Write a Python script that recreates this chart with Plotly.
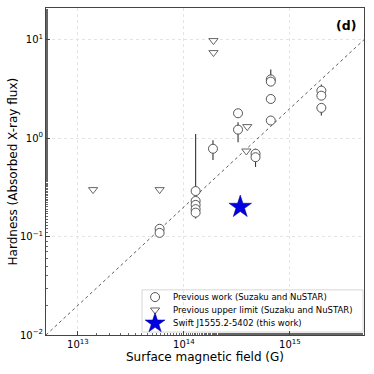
"""Hardness vs surface magnetic field, panel (d)."""

import numpy as np
import plotly.graph_objects as go

# previous work (circles): field, hardness, upper / lower error-bar ends
circle_b = [5.9e13, 5.9e13, 1.29e14, 1.29e14, 1.29e14, 1.29e14, 1.29e14,
            1.88e14, 3.24e14, 3.24e14, 4.74e14, 4.74e14,
            6.6e14, 6.6e14, 6.6e14, 6.6e14, 1.98e15, 1.98e15, 1.98e15]
circle_h = [0.12, 0.109, 0.29, 0.23, 0.21, 0.19, 0.175,
            0.78, 1.79, 1.22, 0.695, 0.64,
            3.95, 3.75, 2.5, 1.51, 3.04, 2.7, 2.03]
circle_hi = [0.12, 0.109, 1.1, 0.23, 0.21, 0.19, 0.175,
             0.95, 1.79, 1.45, 0.78, 0.64,
             4.97, 3.75, 2.5, 1.51, 3.5, 2.7, 2.03]
circle_lo = [0.12, 0.109, 0.29, 0.23, 0.21, 0.19, 0.153,
             0.60, 1.79, 0.91, 0.695, 0.51,
             3.95, 3.75, 2.5, 1.51, 3.04, 2.7, 1.7]

# previous upper limits (triangles)
limit_b = [1.39e13, 5.9e13, 1.9e14, 1.9e14, 3.96e14, 3.88e14]
limit_h = [0.30, 0.30, 9.8, 7.4, 1.31, 0.74]

# this work
star_b = [3.4e14]
star_h = [0.2]

# reference relation H = B / 5e14
line_b = [5e12, 5e15]
line_h = [b / 5e14 for b in line_b]

# tick labels
x_ticks = [1e13, 1e14, 1e15]
x_labels = ["10<sup>13</sup>", "10<sup>14</sup>", "10<sup>15</sup>"]
y_ticks = [1e-2, 1e-1, 1e0, 1e1]
y_labels = ["10<sup>\u22122</sup>", "10<sup>\u22121</sup>", "10<sup>0</sup>", "10<sup>1</sup>"]

legend_labels = [
    "Previous work (Suzaku and NuSTAR)",
    "Previous upper limit (Suzaku and NuSTAR)",
    "Swift J1555.2-5402 (this work)",
]

FONT = "DejaVu Sans"

circle_marker = dict(symbol="circle", size=9, color="white",
                     line=dict(color="#444444", width=0.9))
limit_marker = dict(symbol="triangle-down", size=8, color="white",
                    line=dict(color="#555555", width=0.9))
star_marker = dict(symbol="star", size=17, color="#0000e0",
                   line=dict(color="#00008b", width=0.5))

fig = go.Figure()

fig.add_trace(go.Scatter(
    x=line_b, y=line_h, mode="lines", showlegend=False,
    line=dict(color="#333333", width=0.8, dash="dot"),
))

fig.add_trace(go.Scatter(
    x=circle_b, y=circle_h, mode="markers", name=legend_labels[0], showlegend=False,
    error_y=dict(
        type="data", symmetric=False,
        array=list(np.array(circle_hi) - np.array(circle_h)),
        arrayminus=list(np.array(circle_h) - np.array(circle_lo)),
        color="#333333", thickness=1.1, width=0,
    ),
    marker=circle_marker,
))

fig.add_trace(go.Scatter(
    x=limit_b, y=limit_h, mode="markers", name=legend_labels[1], showlegend=False,
    marker=limit_marker,
))

fig.add_trace(go.Scatter(
    x=star_b, y=star_h, mode="markers", name=legend_labels[2], showlegend=False,
    marker=star_marker,
))

# legend drawn by hand on an overlay axis in [0, 1] x [0, 1] plot units
leg_x0, leg_x1, leg_y0, leg_y1 = 0.302, 0.997, 0.009, 0.138
leg_rows = [0.116, 0.0765, 0.036]
leg_glyph_x = 0.343
leg_text_x = 0.393

fig.add_shape(
    type="rect", xref="paper", yref="paper",
    x0=leg_x0, x1=leg_x1, y0=leg_y0, y1=leg_y1,
    fillcolor="white", line=dict(color="#d6d6d6", width=1), layer="between",
)
for marker, row in zip([circle_marker, limit_marker, dict(star_marker, size=15)], leg_rows):
    fig.add_trace(go.Scatter(
        x=[leg_glyph_x], y=[row], xaxis="x2", yaxis="y2", mode="markers",
        marker=marker, showlegend=False, hoverinfo="skip",
    ))
for text, row in zip(legend_labels, leg_rows):
    fig.add_annotation(
        text=text, xref="paper", yref="paper", x=leg_text_x, y=row,
        xanchor="left", yanchor="middle", showarrow=False,
        font=dict(family=FONT, size=8.5, color="black"),
    )

axis_common = dict(
    type="log", showline=True, mirror=True, linecolor="#444444", linewidth=1,
    ticks="inside", ticklen=4, tickcolor="#444444",
    showgrid=True, gridcolor="#e4e4e4", griddash="dot", gridwidth=1,
    zeroline=False, automargin=False,
    tickfont=dict(family=FONT, size=10, color="black"),
    minor=dict(ticks="inside", ticklen=2, tickcolor="#666666", showgrid=False),
)

fig.update_xaxes(
    **axis_common,
    range=[np.log10(5e12), np.log10(5e15)],
    tickvals=x_ticks, ticktext=x_labels,
)
fig.update_yaxes(
    **axis_common,
    range=[-2, np.log10(21)],
    tickvals=y_ticks, ticktext=y_labels,
)

fig.add_annotation(
    text="Surface magnetic field (G)", xref="paper", yref="paper",
    x=0.5, y=-0.066, xanchor="center", yanchor="middle", showarrow=False,
    font=dict(family=FONT, size=12, color="black"),
)
fig.add_annotation(
    text="Hardness (Absorbed X-ray flux)", xref="paper", yref="paper",
    x=-0.104, y=0.5, xanchor="center", yanchor="middle", showarrow=False,
    textangle=-90, font=dict(family=FONT, size=12, color="black"),
)
fig.add_annotation(
    text="<b>(d)</b>", xref="paper", yref="paper", x=0.98, y=0.948,
    xanchor="right", yanchor="middle", showarrow=False,
    font=dict(family=FONT, size=12.5, color="black"),
)

fig.update_layout(
    width=374, height=374,
    margin=dict(l=46, r=10, t=8, b=39),
    paper_bgcolor="white", plot_bgcolor="white",
    font=dict(family=FONT, color="black"),
    showlegend=False,
    xaxis2=dict(overlaying="x", range=[0, 1], visible=False, fixedrange=True),
    yaxis2=dict(overlaying="y", range=[0, 1], visible=False, fixedrange=True),
)

fig.write_html(
    "out.html",
    config={"displayModeBar": False},
    post_script="document.body.style.margin = '0';",
)
